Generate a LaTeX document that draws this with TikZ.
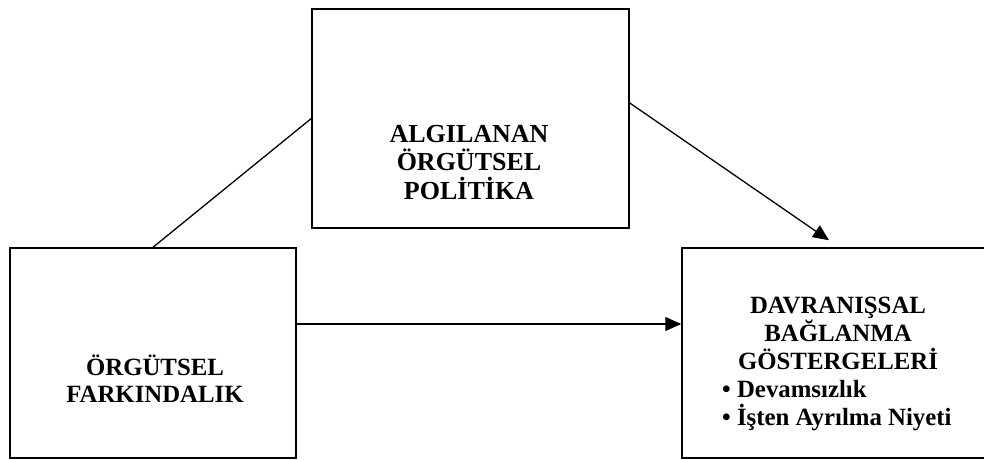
\documentclass[tikz,border=0pt]{standalone}
\usepackage{fontspec}
\setmainfont{Liberation Serif}
\usetikzlibrary{arrows.meta}
\tikzset{
  box/.style={draw=black, line width=1.5pt, fill=none, inner sep=0pt},
  conn/.style={draw=black, line width=1.3pt},
  arr/.style={conn, -{Triangle[length=16pt,width=14pt]}},
  txt/.style={anchor=base, inner sep=0pt, font=\fontsize{24.8}{28}\selectfont\bfseries},
  txtbig/.style={txt, font=\fontsize{26}{29}\selectfont\bfseries},
  bul/.style={txt, anchor=base west}
}
\begin{document}
\begin{tikzpicture}[x=1pt, y=-1pt]
\useasboundingbox (0,0) rectangle (984,459);
\clip (0,0) rectangle (984,459);
% boxes
\node[box, minimum width=317pt, minimum height=219pt] (top) at (470.5,118.5) {};
\node[box, minimum width=286pt, minimum height=210pt] (left) at (153,353) {};
\node[box, minimum width=330pt, minimum height=210pt] (right) at (847,353) {};
% texts
\node[txtbig] (t1) at (469,142) {ALGILANAN};
\node[txtbig] (t2) at (469,170.5) {ÖRGÜTSEL};
\node[txtbig] (t3) at (469,199) {POLİTİKA};
\node[txt] (l1) at (155,375) {ÖRGÜTSEL};
\node[txt] (l2) at (155,402) {FARKINDALIK};
\node[txt] (r1) at (838,313) {DAVRANIŞSAL};
\node[txt] (r2) at (838,341) {BAĞLANMA};
\node[txt] (r3) at (838,369) {GÖSTERGELERİ};
\node[bul] (r4) at (722,397) {• Devamsızlık};
\node[bul] (r5) at (722,425) {• İşten Ayrılma Niyeti};
% connectors
\coordinate (arrEnd) at ([xshift=-18pt,yshift=7pt]right.north);
\draw[conn] (left.north) -- (top.west);
\draw[arr] ([yshift=15.5pt]top.east) -- (arrEnd);
\draw[arr] ([yshift=29pt]left.east) -- ([yshift=29pt]right.west);
\end{tikzpicture}
\end{document}
